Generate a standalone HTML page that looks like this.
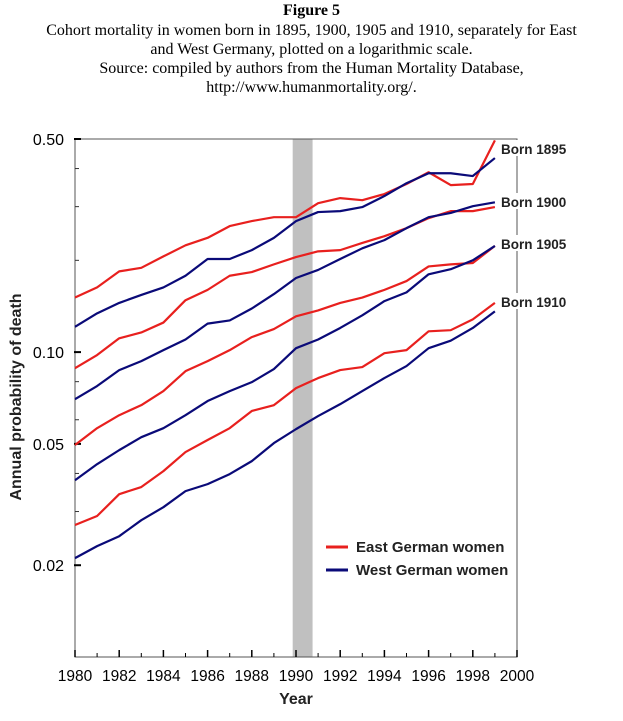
<!DOCTYPE html>
<html><head><meta charset="utf-8"><style>
body{margin:0;background:#fff;width:623px;height:721px;overflow:hidden}
.t{position:absolute;left:0;width:623px;text-align:center;font-family:"Liberation Serif",serif;font-size:16px;color:#000}
</style></head><body>
<div class="t" style="top:2px;font-weight:bold">Figure 5</div>
<div class="t" style="top:21px;line-height:19px">Cohort mortality in women born in 1895, 1900, 1905 and 1910, separately for East<br>and West Germany, plotted on a logarithmic scale.<br>Source: compiled by authors from the Human Mortality Database,<br>http://www.humanmortality.org/.</div>
<svg id="c" width="623" height="721" style="position:absolute;left:0;top:0" font-family="Liberation Sans, sans-serif"></svg>
<script>
const years=[1980,1981,1982,1983,1984,1985,1986,1987,1988,1989,1990,1991,1992,1993,1994,1995,1996,1997,1998,1999];
const east1895=[0.151,0.163,0.184,0.189,0.206,0.224,0.237,0.259,0.269,0.277,0.277,0.308,0.320,0.315,0.330,0.356,0.389,0.353,0.356,0.495];
const west1895=[0.121,0.134,0.145,0.154,0.163,0.178,0.202,0.202,0.216,0.237,0.269,0.288,0.290,0.299,0.325,0.358,0.386,0.386,0.378,0.433];
const east1900=[0.0886,0.0978,0.111,0.116,0.125,0.148,0.160,0.178,0.183,0.194,0.205,0.214,0.216,0.228,0.240,0.255,0.275,0.290,0.290,0.299];
const west1900=[0.0701,0.0774,0.0873,0.0934,0.1015,0.110,0.124,0.127,0.139,0.155,0.175,0.186,0.202,0.219,0.233,0.255,0.277,0.286,0.301,0.310];
const east1905=[0.0496,0.0563,0.0621,0.0670,0.0745,0.0866,0.0934,0.1015,0.112,0.119,0.131,0.137,0.145,0.151,0.160,0.171,0.191,0.194,0.196,0.223];
const west1905=[0.0380,0.0429,0.0477,0.0526,0.0563,0.0621,0.0691,0.0745,0.0797,0.0880,0.103,0.110,0.120,0.132,0.147,0.157,0.180,0.187,0.200,0.223];
const east1910=[0.0271,0.0290,0.0342,0.0361,0.0407,0.0470,0.0515,0.0563,0.0641,0.0670,0.0762,0.0822,0.0873,0.0893,0.0992,0.1015,0.117,0.118,0.128,0.145];
const west1910=[0.0211,0.0231,0.0249,0.0281,0.0310,0.0350,0.0369,0.0398,0.0439,0.0503,0.0559,0.0617,0.0675,0.0745,0.0822,0.0900,0.103,0.109,0.120,0.136];
const majorTicks=[0.5,0.1,0.05,0.02];
const majorLabels=["0.50","0.10","0.05","0.02"];
const minorTicks=[0.4,0.3,0.2,0.08,0.06,0.04,0.03];
const xTicks=[1980,1982,1984,1986,1988,1990,1992,1994,1996,1998,2000];
const cohortLabels=["Born 1895","Born 1900","Born 1905","Born 1910"];
const L=75,R=517,T=139,B=657;
const x=v=>L+(v-1980)*(R-L)/20;
const y=v=>T+(Math.log10(0.5)-Math.log10(v))*(B-T)/(Math.log10(0.5)-Math.log10(0.01));
const svg=document.getElementById('c');const NS='http://www.w3.org/2000/svg';
function mk(t,a,p){const e=document.createElementNS(NS,t);for(const k in a)e.setAttribute(k,a[k]);(p||svg).appendChild(e);return e;}
const band=mk('rect',{x:x(1989.85),y:T,width:x(1990.75)-x(1989.85),height:B-T,fill:'#c0c0c0'});


const frame=mk('path',{d:`M${L} ${T}H${R}V${B}H${L}Z`,fill:'none',stroke:'#555','stroke-width':1});


majorTicks.forEach((v,i)=>{
 const tk=mk('line',{x1:L-1,x2:L+6,y1:y(v),y2:y(v),stroke:'#000','stroke-width':2});
 
 
 const tx=mk('text',{x:L-11,y:y(v)+6,'text-anchor':'end','font-size':16});tx.textContent=majorLabels[i];
 
 
});
minorTicks.forEach(v=>{
 const tk=mk('line',{x1:L,x2:L+4,y1:y(v),y2:y(v),stroke:'#333','stroke-width':1});
 
 
});
for(let yr=1980;yr<=2000;yr++){
 const major=(yr%2===0);
 const tk=mk('line',{x1:x(yr),x2:x(yr),y1:B,y2:B-(major?7:4),stroke:'#000','stroke-width':major?1.5:1});
 
 
}
xTicks.forEach(v=>{
 const tx=mk('text',{x:x(v),y:B+24,'text-anchor':'middle','font-size':15.5});tx.textContent=v;
 
 
});
const series=[[east1895,'#e8201e','east-1895'],[west1895,'#0a0a78','west-1895'],[east1900,'#e8201e','east-1900'],[west1900,'#0a0a78','west-1900'],[east1905,'#e8201e','east-1905'],[west1905,'#0a0a78','west-1905'],[east1910,'#e8201e','east-1910'],[west1910,'#0a0a78','west-1910']];
series.forEach(([d,c,n])=>{
 const p=mk('polyline',{points:d.map((v,i)=>x(years[i])+','+y(v)).join(' '),fill:'none',stroke:c,'stroke-width':2.2,'stroke-linejoin':'round'});
 
 
});
const labY=[151,204,246,304];
cohortLabels.forEach((s,i)=>{
 const bg=mk('rect',{x:500,y:labY[i]-11,width:76,height:16,fill:'#fff'});
 
 
 const tx=mk('text',{x:501,y:labY[i]+3,'font-size':13.5,'font-weight':'bold',fill:'#222'});tx.textContent=s;
 
 
});
const legendItems=[['East German women','#e8201e',547],['West German women','#0a0a78',570]];
legendItems.forEach(([s,c,yy])=>{
 const ln=mk('line',{x1:326,x2:348,y1:yy,y2:yy,stroke:c,'stroke-width':3});
 
 
 const tx=mk('text',{x:356,y:yy+5,'font-size':15,'font-weight':'bold',fill:'#222'});tx.textContent=s;
 
 
});
const xt=mk('text',{x:296,y:704,'text-anchor':'middle','font-size':16,'font-weight':'bold',fill:'#222'});xt.textContent='Year';


const yt=mk('text',{x:0,y:0,'text-anchor':'middle','font-size':16,'font-weight':'bold',fill:'#222',transform:'translate(21,397) rotate(-90)'});yt.textContent='Annual probability of death';


</script>
</body></html>
